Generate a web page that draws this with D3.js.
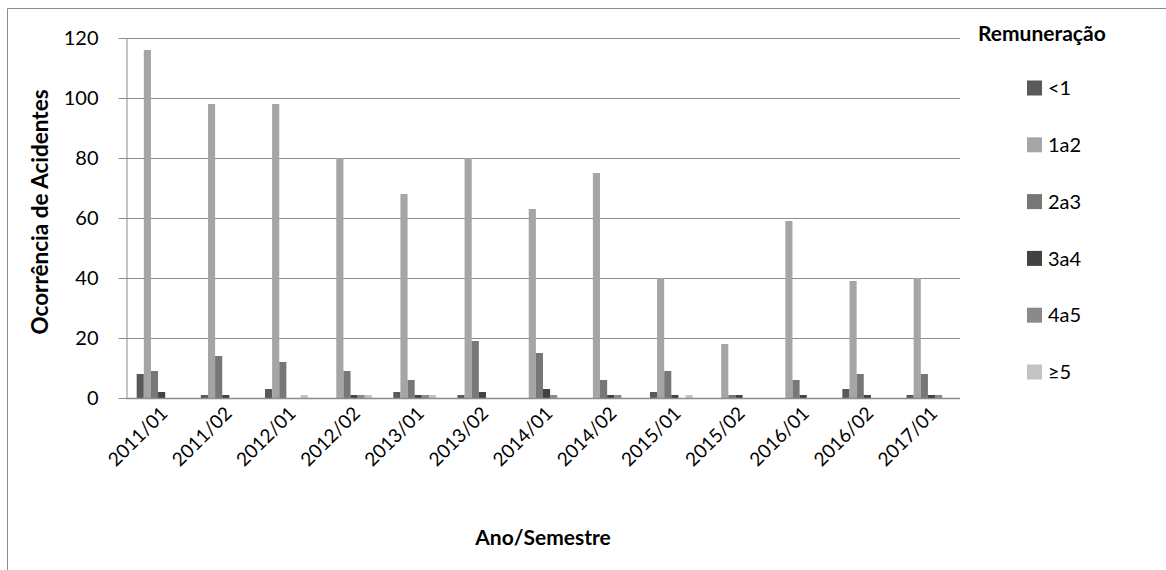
<!DOCTYPE html>
<html>
<head>
<meta charset="utf-8">
<script src="https://cdn.jsdelivr.net/npm/d3@7"></script>
<style>
  body { margin: 0; background: #fff; }
  text { font-family: Lato, "Open Sans", sans-serif; fill: #000; }
</style>
</head>
<body>
<svg id="chart" width="1166" height="570"></svg>
<script>
// Semesters on the category axis
const periods = ["2011/01","2011/02","2012/01","2012/02","2013/01","2013/02","2014/01",
                 "2014/02","2015/01","2015/02","2016/01","2016/02","2017/01"];

// Salary bands (legend order)
const bands = ["<1","1a2","2a3","3a4","4a5","≥5"];

// Accident counts per band, one value per semester
const bandLt1 = [8, 1, 3, 0, 2, 1, 0, 0, 2, 0, 0, 3, 1];
const band1a2 = [116, 98, 98, 80, 68, 80, 63, 75, 40, 18, 59, 39, 40];
const band2a3 = [9, 14, 12, 9, 6, 19, 15, 6, 9, 1, 6, 8, 8];
const band3a4 = [2, 1, 0, 1, 1, 2, 3, 1, 1, 1, 1, 1, 1];
const band4a5 = [0, 0, 0, 1, 1, 0, 1, 1, 0, 0, 0, 0, 1];
const bandGe5 = [0, 0, 1, 1, 1, 0, 0, 0, 1, 0, 0, 0, 0];

const yTicks = [0, 20, 40, 60, 80, 100, 120];

const bandValues = [bandLt1, band1a2, band2a3, band3a4, band4a5, bandGe5];
const bandColors = ["#595959", "#a5a5a5", "#777777", "#424242", "#8a8a8a", "#c3c3c3"];

const svg = d3.select("#chart");

// outer chart frame
svg.append("path")
  .attr("d", "M7.5,570 V8.5 H1166")
  .attr("fill", "none")
  .attr("stroke", "#8c8c8c")
  .attr("stroke-width", 1);

const plot = { left: 126, right: 960, top: 38, bottom: 398 };

const x0 = d3.scaleBand()
  .domain(periods)
  .range([plot.left, plot.right])
  .paddingInner(0.333)
  .paddingOuter(0.1665);

const x1 = d3.scaleBand()
  .domain(bands)
  .range([0, x0.bandwidth()]);

const y = d3.scaleLinear()
  .domain([0, 120])
  .range([plot.bottom, plot.top]);

// horizontal gridlines
svg.append("g")
  .selectAll("line")
  .data(yTicks.filter(d => d > 0))
  .join("line")
  .attr("x1", plot.left)
  .attr("x2", plot.right)
  .attr("y1", d => Math.round(y(d)) + 0.5)
  .attr("y2", d => Math.round(y(d)) + 0.5)
  .attr("stroke", "#8c8c8c")
  .attr("stroke-width", 1);

// bars
const groups = svg.append("g")
  .selectAll("g")
  .data(periods)
  .join("g")
  .attr("transform", d => `translate(${x0(d)},0)`);

groups.selectAll("rect")
  .data((p, i) => bands.map((b, j) => ({ band: b, value: bandValues[j][i], color: bandColors[j] })))
  .join("rect")
  .attr("x", d => x1(d.band))
  .attr("width", x1.bandwidth())
  .attr("y", d => y(d.value))
  .attr("height", d => y(0) - y(d.value))
  .attr("fill", d => d.color);

// y axis
const yAxis = d3.axisLeft(y)
  .tickValues(yTicks)
  .tickSize(8)
  .tickPadding(20)
  .tickSizeOuter(0);

const yg = svg.append("g")
  .attr("transform", `translate(${plot.left + 0.5},0)`)
  .call(yAxis);
yg.select(".domain").attr("stroke", "#8c8c8c");
yg.selectAll(".tick line").attr("stroke", "#8c8c8c");
yg.selectAll(".tick text")
  .attr("font-size", 20)
  .attr("font-family", "Lato, sans-serif")
  .attr("fill", "#000");

// x axis baseline
svg.append("line")
  .attr("x1", plot.left)
  .attr("x2", plot.right)
  .attr("y1", y(0) + 0.5)
  .attr("y2", y(0) + 0.5)
  .attr("stroke", "#8c8c8c")
  .attr("stroke-width", 1.5);

// rotated category labels
svg.append("g")
  .selectAll("text")
  .data(periods)
  .join("text")
  .attr("transform", d => `translate(${x0(d) + x0.bandwidth() / 2 + 6},${plot.bottom + 12}) rotate(-45)`)
  .attr("text-anchor", "end")
  .attr("dy", "0.35em")
  .attr("font-size", 19)
  .text(d => d);

// axis titles
svg.append("text")
  .attr("x", 543)
  .attr("y", 545)
  .attr("text-anchor", "middle")
  .attr("font-size", 21)
  .attr("font-weight", "bold")
  .text("Ano/Semestre");

svg.append("text")
  .attr("transform", "translate(48,212) rotate(-90)")
  .attr("text-anchor", "middle")
  .attr("font-size", 22.5)
  .attr("font-weight", "bold")
  .text("Ocorrência de Acidentes");

// legend
const legend = svg.append("g");
legend.append("text")
  .attr("x", 978)
  .attr("y", 41)
  .attr("font-size", 21)
  .attr("font-weight", "bold")
  .text("Remuneração");

const ly = d3.scalePoint()
  .domain(bands)
  .range([88, 372]);

const items = legend.selectAll("g.item")
  .data(bands.map((b, j) => ({ band: b, color: bandColors[j] })))
  .join("g")
  .attr("class", "item")
  .attr("transform", d => `translate(1027,${ly(d.band)})`);

items.append("rect")
  .attr("x", 0)
  .attr("y", -7.5)
  .attr("width", 15)
  .attr("height", 15)
  .attr("fill", d => d.color);

items.append("text")
  .attr("x", 21)
  .attr("dy", "0.36em")
  .attr("font-size", 20)
  .text(d => d.band);
</script>
</body>
</html>
